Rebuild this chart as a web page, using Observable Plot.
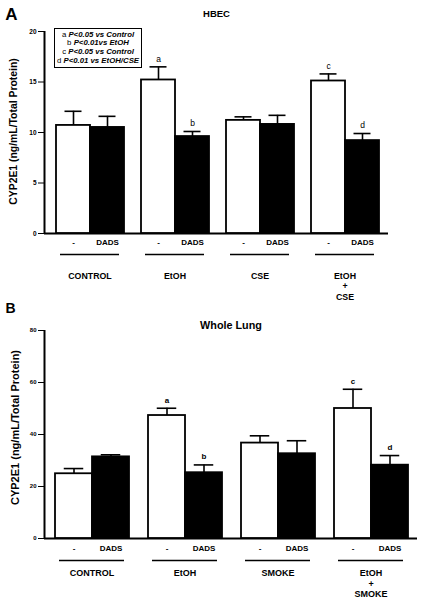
<!DOCTYPE html>
<html><head><meta charset="utf-8">
<script src="https://cdn.jsdelivr.net/npm/d3@7"></script>
<script src="https://cdn.jsdelivr.net/npm/@observablehq/plot@0.6"></script>
<style>
html,body{margin:0;padding:0;background:#fff;}
#wrap{position:relative;width:422px;height:600px;font-family:"Liberation Sans",Arial,sans-serif;background:#fff;}
.panel{position:absolute;left:0;width:422px;height:300px;}
.panel svg{position:absolute;left:0;top:0;}
.legend{position:absolute;left:54px;top:28px;width:88px;height:40px;box-sizing:border-box;border:1.5px solid #000;font-size:7.8px;line-height:8.7px;text-align:center;padding-top:1.5px;color:#000;white-space:nowrap;}
.legend b{font-style:italic;}
</style></head><body>
<div id="wrap"><div id="pa" class="panel" style="top:0"></div><div id="pb" class="panel" style="top:300px"></div></div>
<script>
const groupsA = ["CONTROL", "EtOH", "CSE", "EtOH\n+\nCSE"];
const groupsB = ["CONTROL", "EtOH", "SMOKE", "EtOH\n+\nSMOKE"];
const treatments = ["-", "DADS"];
const meanA_none = [10.7, 15.2, 11.2, 15.1];
const semA_none = [1.4, 1.3, 0.35, 0.7];
const meanA_dads = [10.5, 9.6, 10.8, 9.2];
const semA_dads = [1.1, 0.5, 0.9, 0.7];
const sigA_none = ["", "a", "", "c"];
const sigA_dads = ["", "b", "", "d"];
const meanB_none = [24.9, 47.3, 36.7, 50.0];
const semB_none = [2.0, 2.8, 2.8, 7.4];
const meanB_dads = [31.4, 25.3, 32.6, 28.2];
const semB_dads = [0.8, 3.0, 5.0, 3.7];
const sigB_none = ["", "a", "", "c"];
const sigB_dads = ["", "b", "", "d"];
const yTicksA = [0, 5, 10, 15, 20];
const yTicksB = [0, 20, 40, 60, 80];
const yLabel = "CYP2E1 (ng/mL/Total Protein)";
const titleA = "HBEC";
const titleB = "Whole Lung";
const legendLetters = ["a", "b", "c", "d"];
const legendTexts = ["P<0.05 vs Control", "P<0.01vs EtOH", "P<0.05 vs Control", "P<0.01 vs EtOH/CSE"];

const FF = '"Liberation Sans", Arial, sans-serif';

function rowsOf(groups, mN, sN, gN, mD, sD, gD) {
  return groups.flatMap((g, i) => [
    {group: g, treatment: treatments[0], mean: mN[i], sem: sN[i], sig: gN[i]},
    {group: g, treatment: treatments[1], mean: mD[i], sem: sD[i], sig: gD[i]}
  ]);
}

function drawPanel(el, c) {
  const rows = rowsOf(c.groups, ...c.series);
  const axes = Plot.plot({
    width: 422, height: 300,
    marginTop: c.mt, marginBottom: c.mb, marginLeft: 44, marginRight: c.mrAxis,
    style: {background: "white", fontFamily: FF, fontSize: c.tickFont + "px", fontWeight: "bold", overflow: "visible", color: "black"},
    x: {domain: [0, 1], axis: null},
    y: {domain: [0, c.ymax], ticks: c.yTicks, tickSize: 6, tickPadding: 2, label: null},
    marks: [
      Plot.ruleY([0], {strokeWidth: 2}),
      Plot.ruleX([0], {strokeWidth: 2}),
      Plot.text([c.title], {text: d => d, frameAnchor: "top", textAnchor: "middle", lineAnchor: "middle", dy: c.titleDy, fontSize: c.titleFont, fontWeight: "bold"}),
      Plot.text([c.letter], {text: d => d, frameAnchor: "top-left", textAnchor: "middle", lineAnchor: "middle", dx: c.letterDx, dy: c.letterDy, fontSize: c.letterFont, fontWeight: "bold"}),
      Plot.text([yLabel], {text: d => d, frameAnchor: "left", rotate: -90, textAnchor: "middle", lineAnchor: "middle", dx: c.labDx, dy: c.labDy, fontSize: c.labFont, fontWeight: "bold"})
    ]
  });
  const bars = Plot.plot({
    width: 422, height: 300,
    marginTop: c.mt, marginBottom: c.mb, marginLeft: 44, marginRight: c.mrBars,
    style: {background: "transparent", fontFamily: FF, overflow: "visible", color: "black"},
    fx: {domain: c.groups, paddingInner: c.pi, paddingOuter: c.po, axis: null, label: null},
    x: {domain: treatments, padding: 0, axis: null},
    y: {domain: [0, c.ymax], axis: null},
    color: {domain: treatments, range: ["white", "black"]},
    marks: [
      Plot.barY(rows, {fx: "group", x: "treatment", y: "mean", fill: "treatment", stroke: "black", strokeWidth: 1.8}),
      Plot.ruleX(rows, {fx: "group", x: "treatment", y1: "mean", y2: d => d.mean + d.sem, stroke: "black", strokeWidth: 1.6}),
      Plot.tickY(rows, {fx: "group", x: "treatment", y: d => d.mean + d.sem, insetLeft: c.capInset, insetRight: c.capInset, stroke: "black", strokeWidth: 1.6}),
      Plot.text(rows.filter(d => d.sig), {fx: "group", x: "treatment", y: d => d.mean + d.sem, text: "sig", lineAnchor: "middle", dy: -8, fontSize: c.sigFont, fontWeight: c.sigWeight}),
      Plot.text(rows, {fx: "group", x: "treatment", text: "treatment", frameAnchor: "bottom", lineAnchor: "middle", dy: c.tDy, fontSize: 8, fontWeight: "bold"}),
      Plot.ruleY(c.groups, {fx: d => d, y: () => 0, dy: c.uDy, insetLeft: 5, insetRight: 5, stroke: "black", strokeWidth: 1.5}),
      Plot.text(c.groups, {fx: d => d, text: d => d, frameAnchor: "bottom", textAnchor: "middle", lineAnchor: "top", dy: c.gDy, fontSize: c.gFont, fontWeight: "bold", lineHeight: c.gLH})
    ]
  });
  el.appendChild(axes);
  el.appendChild(bars);
}

drawPanel(document.getElementById("pa"), {
  groups: groupsA,
  series: [meanA_none, semA_none, sigA_none, meanA_dads, semA_dads, sigA_dads],
  ymax: 20, yTicks: yTicksA, mt: 31, mb: 67, mrAxis: 34, mrBars: 32, pi: 0.186, po: 0.105,
  tickFont: 6.5, title: titleA, titleDy: -18, titleFont: 9.5,
  letter: "A", letterDx: -33, letterDy: -17, letterFont: 17,
  labDx: -31, labDy: -1, labFont: 10.4,
  capInset: 8.5, sigFont: 8.5, sigWeight: "normal",
  tDy: 9, uDy: 21, gDy: 38, gFont: 8.8, gLH: 1.19
});
drawPanel(document.getElementById("pb"), {
  groups: groupsB,
  series: [meanB_none, semB_none, sigB_none, meanB_dads, semB_dads, sigB_dads],
  ymax: 80, yTicks: yTicksB, mt: 30, mb: 62, mrAxis: 5, mrBars: 4, pi: 0.194, po: 0.1075,
  tickFont: 6, title: titleB, titleDy: -5, titleFont: 10.8,
  letter: "B", letterDx: -34, letterDy: -22, letterFont: 14,
  labDx: -29, labDy: -7, labFont: 11,
  capInset: 8.75, sigFont: 8, sigWeight: "bold",
  tDy: 10, uDy: 22, gDy: 30, gFont: 9, gLH: 1.17
});

const leg = document.createElement("div");
leg.className = "legend";
legendLetters.forEach((l, i) => {
  const line = document.createElement("div");
  line.appendChild(document.createTextNode(l + " "));
  const b = document.createElement("b");
  b.textContent = legendTexts[i];
  line.appendChild(b);
  leg.appendChild(line);
});
document.getElementById("pa").appendChild(leg);
</script>
</body></html>
